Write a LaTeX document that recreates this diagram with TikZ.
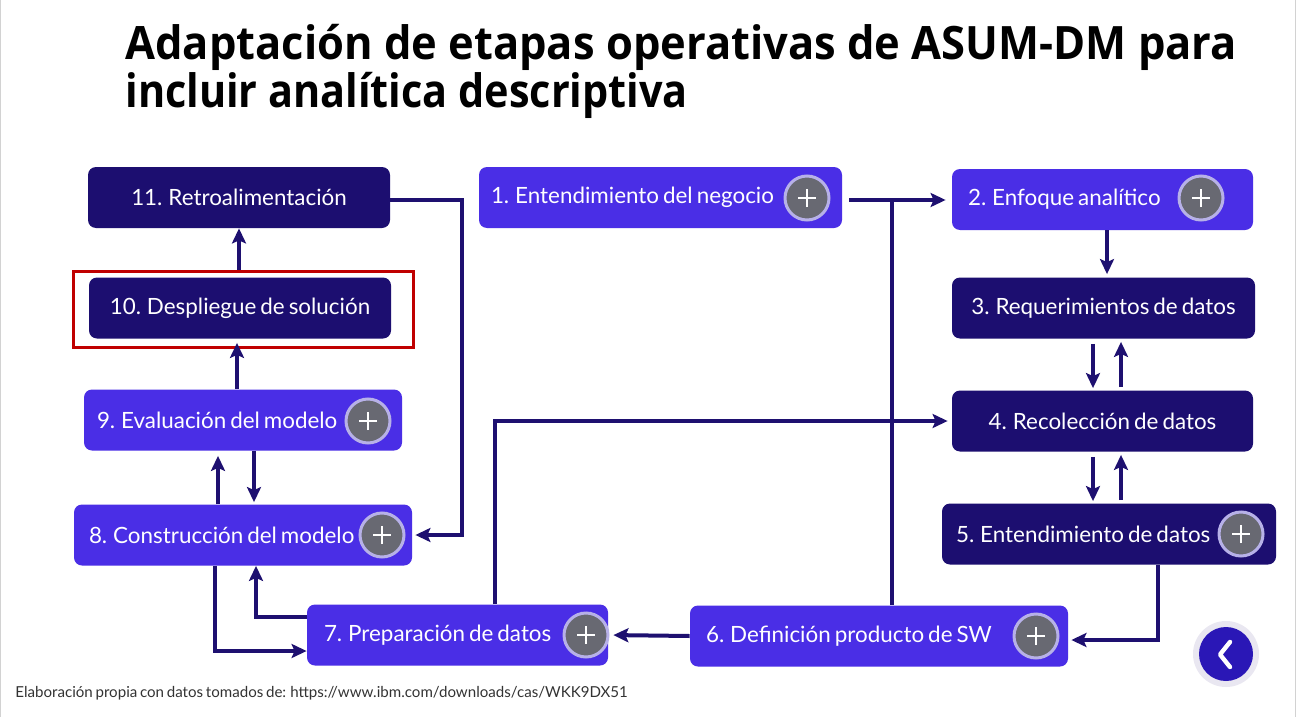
\documentclass[tikz,border=0pt]{standalone}
\usepackage{fontspec}
\setmainfont{Lato}[WordSpace=0.7]
\newfontfamily\titlefont{Open Sans}
\usetikzlibrary{arrows.meta,positioning,calc}
\definecolor{stagedark}{HTML}{1C0E70}
\definecolor{stagelight}{HTML}{4A2EE6}
\definecolor{plusgray}{HTML}{686972}
\definecolor{plusring}{HTML}{B7B1E8}
\definecolor{linkcol}{HTML}{1E1070}
\definecolor{backblue}{HTML}{2A17B6}
\definecolor{backring}{HTML}{E9E7F1}
\definecolor{framered}{HTML}{C00000}

\begin{document}
\begin{tikzpicture}[x=0.5pt,y=-0.5pt,
    stage/.style={rectangle,rounded corners=4pt,fill=#1,minimum height=30.5pt,inner sep=0pt,text=white,font=\fontsize{11.2}{13}\selectfont},
    stage/.default=stagelight,
    lbl/.style={text=white,font=\fontsize{11.2}{13}\selectfont,anchor=west,inner sep=0pt},
    plus/.style={circle,fill=plusgray,draw=plusring,line width=1.5pt,minimum size=22pt,inner sep=0pt,
        path picture={\draw[white,line width=1pt] ([xshift=-4.5pt]path picture bounding box.center) -- ([xshift=4.5pt]path picture bounding box.center) ([yshift=-4.5pt]path picture bounding box.center) -- ([yshift=4.5pt]path picture bounding box.center);}},
    conn/.style={draw=linkcol,line width=2pt,-{Stealth[length=7.5pt,width=7pt,inset=1.5pt]}},
    link/.style={draw=linkcol,line width=2pt},
    heading/.style={anchor=base west,inner sep=0pt,font=\titlefont\bfseries\fontsize{23}{28}\selectfont}]

    \useasboundingbox[fill=white] (0,0) rectangle (1300,717);
    \draw[gray!35] (0.5,0) -- (0.5,717);
    \draw[gray!35] (1295,0) -- (1295,717);

    % title
    \node[heading] (title1) at (125,60) {\scalebox{0.945}[1]{Adaptación de etapas operativas de ASUM-DM para}};
    \node[heading] (title2) at (125,107) {\scalebox{0.9}[1]{incluir analítica descriptiva}};

    % left column
    \node[stage=stagedark,minimum width=151pt] (n11) at (239,197.5) {11. Retroalimentación};
    \node[stage=stagedark,minimum width=151pt] (n10) at (240,308) {10. Despliegue de solución};
    \node[draw=framered,line width=1.5pt,minimum width=170pt,minimum height=38pt,inner sep=0pt] (hl) at (243,309) {};
    \node[stage,minimum width=159pt] (n9) at (243,420) {};
    \node[lbl] (t9) at ([xshift=6.5pt]n9.west) {9. Evaluación del modelo};
    \node[plus] (p9) at (368,421) {};
    \node[stage,minimum width=169pt] (n8) at (243,535) {};
    \node[lbl] (t8) at ([xshift=7.5pt]n8.west) {8. Construcción del modelo};
    \node[plus] (p8) at (382,535) {};

    % bottom row
    \node[stage,minimum width=150.5pt] (n7) at (457.5,635) {};
    \node[lbl] (t7) at ([xshift=8.5pt]n7.west) {7. Preparación de datos};
    \node[plus] (p7) at (586,635) {};
    \node[stage,minimum width=189pt] (n6) at (879,636) {};
    \node[lbl] (t6) at ([xshift=8pt]n6.west) {6. Definición producto de SW};
    \node[plus] (p6) at (1036,636) {};

    % top and right column
    \node[stage,minimum width=181.5pt] (n1) at (660.5,197.5) {};
    \node[lbl] (t1) at ([xshift=6pt]n1.west) {1. Entendimiento del negocio};
    \node[plus] (p1) at (807,198) {};
    \node[stage,minimum width=150.5pt] (n2) at (1102.5,199.5) {};
    \node[lbl] (t2) at ([xshift=8pt]n2.west) {2. Enfoque analítico};
    \node[plus] (p2) at (1201,198) {};
    \node[stage=stagedark,minimum width=151.5pt] (n3) at (1103.5,308) {3. Requerimientos de datos};
    \node[stage=stagedark,minimum width=150.5pt] (n4) at (1102.5,421) {4. Recolección de datos};
    \node[stage=stagedark,minimum width=167pt] (n5) at (1109,534) {};
    \node[lbl] (t5) at ([xshift=7pt]n5.west) {5. Entendimiento de datos};
    \node[plus] (p5) at (1241,534) {};

    % connectors
    \coordinate (k11) at (462,200);
    \draw[conn,shorten >=1.5pt] (n11.east |- k11) -- (k11) |- (n8.east);
    \draw[conn] (n11.south |- hl.north) -- (n11.south);
    \draw[conn,shorten >=2pt] (n9.north -| 237,0) -- (n10.south -| 237,0);
    \draw[conn,shorten >=2.5pt] (n8.north -| 218,0) -- (n9.south -| 218,0);
    \draw[conn,shorten >=1pt] (n9.south -| 254,0) -- (n8.north -| 254,0);
    \draw[conn] (n8.south -| 215,0) |- ([yshift=-8pt]n7.west);
    \draw[conn] ([yshift=9pt]n7.west) -| (n8.south -| 256,0);
    \draw[conn,shorten >=2pt] (n7.north -| 495,0) |- (n4.west);
    \draw[conn,shorten >=2.5pt] (n6.west) -- (n7.east);
    \draw[conn,shorten >=1.5pt] (n5.south -| 1158,0) |- ([yshift=-2pt]n6.east);
    \coordinate (j12) at (892,200);
    \draw[conn,shorten <=3.5pt,shorten >=3pt] (n1.east |- j12) -- (n2.west |- j12);
    \draw[link] (n6.north -| j12) -- (j12);
    \draw[conn,shorten >=1.5pt] (n2.south -| 1107,0) -- (n3.north -| 1107,0);
    \foreach \a/\b in {n3/n4,n4/n5}{
        \draw[conn,shorten <=2.5pt,shorten >=1pt] (\a.south -| 1093,0) -- (\b.north -| 1093,0);
        \draw[conn,shorten <=1.5pt,shorten >=1.5pt] (\b.north -| 1121,0) -- (\a.south -| 1121,0);
    }

    % back button
    \node[circle,fill=backring,minimum size=33pt,inner sep=0pt] (back) at (1226,654) {};
    \node[circle,fill=backblue,minimum size=27pt,inner sep=0pt] (backin) at (back) {};
    \draw[white,line width=2.2pt,line cap=round,line join=round] (back) ++(4,-12) -- ++(-10,12.5) -- ++(10,12.5);

    % source
    \node[anchor=base west,inner sep=0pt,font=\fontsize{7.55}{8}\selectfont,text=black!80] (source) at (15,697) {Elaboración propia con datos tomados de: https://www.ibm.com/downloads/cas/WKK9DX51};
\end{tikzpicture}
\end{document}
